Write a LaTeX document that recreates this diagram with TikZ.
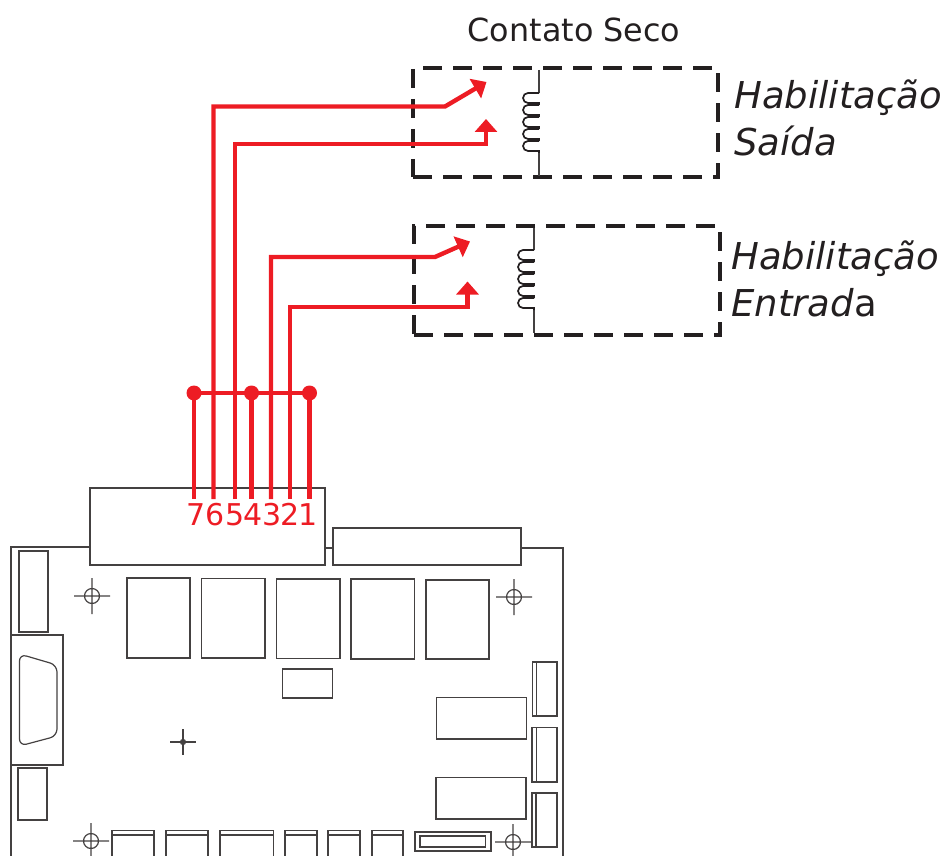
\documentclass[tikz,border=0pt]{standalone}
\usepackage{fontspec}
\setmainfont{DejaVu Sans}
\usepackage{tikz}
\usetikzlibrary{arrows.meta}
\definecolor{vermelho}{HTML}{ED1C24}
\definecolor{tinta}{HTML}{231F20}
\tikzset{
	fio/.style={draw=vermelho, line width=2.2pt},
	ponto/.style={fill=vermelho},
	seta/.style={fio, -{Triangle[length=6.5pt, width=11pt]}},
	rele/.style={draw=tinta, line width=1.8pt, dash pattern=on 9.5pt off 5.5pt},
	placa/.style={draw=tinta!85, line width=0.6pt},
	bobina/.style={draw=tinta, line width=0.85pt},
	rotulo/.style={font=\fontsize{18.5}{22}\selectfont\itshape, text=tinta, anchor=base west, inner sep=0pt},
	pino/.style={font=\fontsize{15}{18}\selectfont, text=vermelho, anchor=base, inner sep=0pt},
}
\begin{document}
\begin{tikzpicture}[x=0.5pt, y=-0.5pt]
	\useasboundingbox (0,0) rectangle (945,855);
	\clip (0,0) rectangle (945,855);
	\node [font=\fontsize{15.9}{19}\selectfont, text=tinta, anchor=base, inner sep=0pt] (titulo) at (574,42) {Contato Seco};
	\draw [rele] (413,177) -- (718,177) -- (718,68) -- (413,68) -- (413,177);
	\draw [rele] (414,335) -- (720,335) -- (720,226) -- (414,226) -- (414,335);
	\node [rotulo] (hab1) at (734,109) {Habilitação};
	\node [rotulo] (sai) at (734,156) {Saída};
	\node [rotulo] (hab2) at (731,270) {Habilitação};
	\node [rotulo] (ent) at (731,316) {Entrad\textup{a}};
	% bobinas
	\draw [placa] (539,70) -- (539,93) (539,152) -- (539,176);
	\foreach \y in {93,105,117,129,141}
		\draw [bobina] (539,\y) -- (528,\y) arc [start angle=-90, end angle=-270, radius=5] -- (539,\y+10) -- (539,\y+12);
	\draw [placa] (534,228) -- (534,250) (534,310) -- (534,333);
	\foreach \y in {250,262,274,286,298}
		\draw [bobina] (534,\y) -- (523,\y) arc [start angle=-90, end angle=-270, radius=5] -- (534,\y+10) -- (534,\y+12);
	% placa
	\draw [placa] (90,547) -- (11,547) -- (11,856);
	\draw [placa] (325,548) -- (333,548) (521,548) -- (563,548) -- (563,856);
	\foreach \xa/\ya/\xb/\yb in {90/488/325/565, 333/528/521/565, 19/551/48/632, 11/635/63/765, 18/768/47/820,
			127/578/190/658, 201.5/578.5/265/658, 276.5/579/340/658.5, 351/579/414.5/659, 426/580/489/659,
			282.5/669/332.5/698, 436.5/697.5/526.5/739, 436/777.5/526/819, 415/832/491/851, 420/836/485.5/847}
		\draw [placa] (\xa,\ya) rectangle (\xb,\yb);
	\draw [placa, rounded corners=3.5pt] (19.5,654) -- (57,665) -- (57,736) -- (19.5,746) -- cycle;
	\foreach \xa/\ya/\yb/\xl in {532.5/662/716/536.5, 532/727.5/782/536.5, 532/793/847/536}
		\draw [placa] (\xa,\ya) rectangle (557,\yb) (\xl,\ya) -- (\xl,\yb);
	\foreach \xa/\xb in {112/154, 166/208, 220/273.5, 285/317, 328/360, 372/403}
		\draw [placa] (\xa,856) |- (\xb,830.5) -- (\xb,856) (\xa,835) -- (\xb,835);
	\foreach \cx/\cy in {92/596, 514/597, 91/841, 513/842}
		\draw [placa] (\cx,\cy) circle [radius=7.5] (\cx-18,\cy) -- (\cx+18,\cy) (\cx,\cy-18) -- (\cx,\cy+18);
	\draw [placa, fill=tinta!50] (183,742) circle [radius=2.5];
	\draw [placa] (170,742) -- (196,742) (183,729) -- (183,755);
	% pinos
	\foreach \n/\x in {7/196.5,6/215.5,5/235,4/253.5,3/272,2/290.5,1/308.5}
		\node [pino] (p\n) at (\x,525) {\n};
	\coordinate (j7) at (194,393);
	\coordinate (j4) at (251.5,393);
	\coordinate (j1) at (309.5,393);
	\draw [fio] (j7) -- (j1);
	\foreach \j in {j7,j4,j1}
		\fill [ponto] (\j) circle [radius=7.5];
	\draw [fio] (j7) -- (194,499);
	\draw [fio] (j4) -- (251.5,499);
	\draw [fio] (j1) -- (309.5,499);
	\draw [seta] (213.5,499) -- (213.5,106.5) -- (445,106.5) -- (486.5,82);
	\draw [seta] (235,499) -- (235,144) -- (486,144) -- (486,119);
	\draw [seta] (271,499) -- (271,257) -- (435,257) -- (470,241.5);
	\draw [seta] (290,499) -- (290,307) -- (467.5,307) -- (467.5,281.5);
\end{tikzpicture}
\end{document}
